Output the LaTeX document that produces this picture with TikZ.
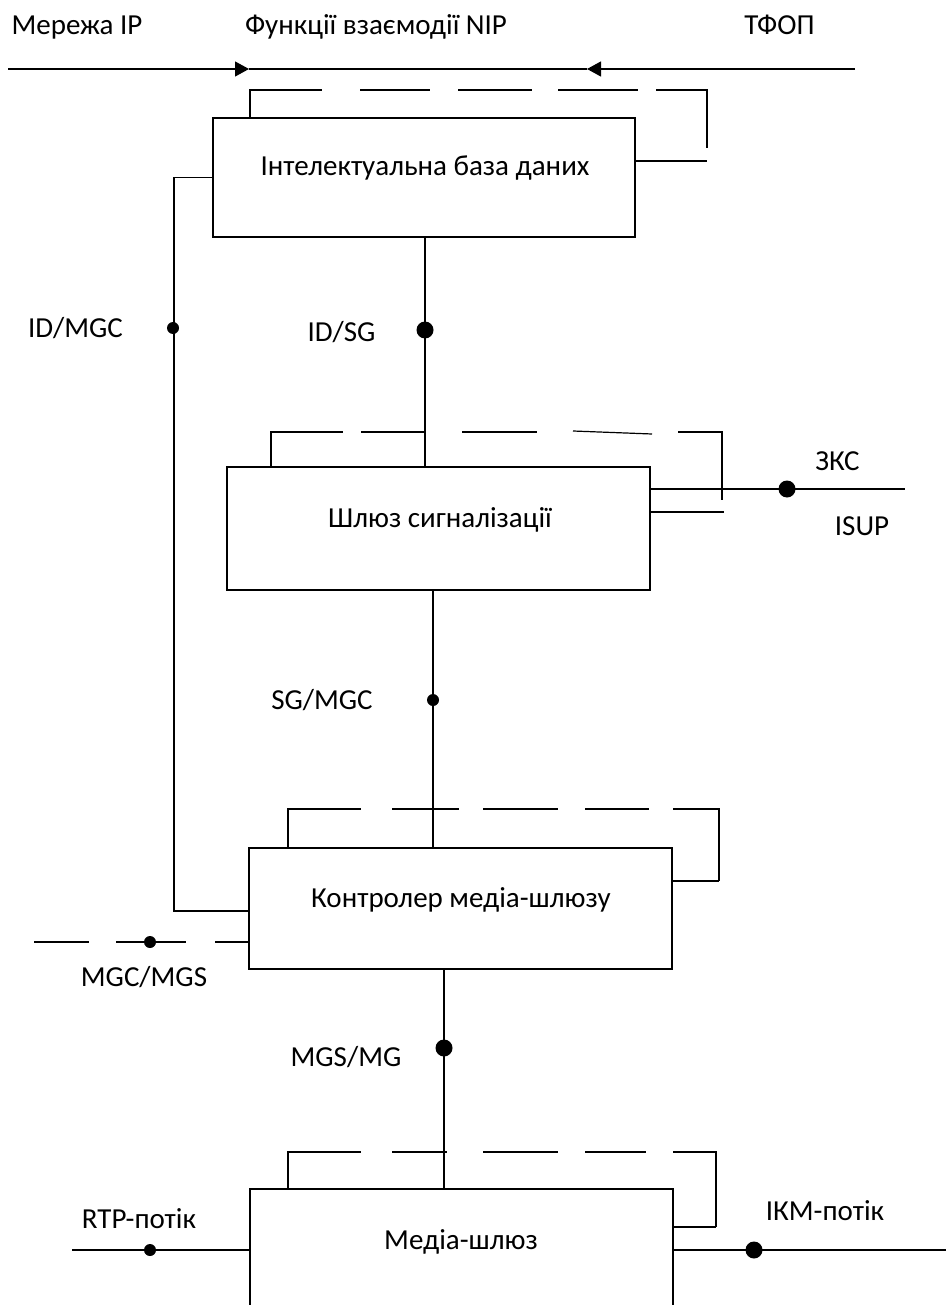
\documentclass[tikz,border=0pt]{standalone}
\usepackage{fontspec}
\setmainfont{Carlito}
\usetikzlibrary{arrows.meta}
\begin{document}
\begin{tikzpicture}[x=1pt,y=-1pt,
  wire/.style={line width=1.2pt},
  block/.style={draw, line width=2.6pt, inner sep=0pt, minimum width=423pt},
  lbl/.style={font=\fontsize{29}{31}\selectfont, inner sep=0pt, text height=18.6pt, text depth=0pt},
  sdot/.style={circle, fill, draw=none, inner sep=0pt, minimum size=12pt},
  bdot/.style={circle, fill, draw=none, inner sep=0pt, minimum size=17pt},
  tip/.style={-{Triangle[length=14pt,width=15pt]}}]
\clip (0,0) rectangle (946,1305);
\fill[white] (0,0) rectangle (946,1305);

% blocks
\node[block, minimum width=422pt, minimum height=119pt] (b1) at (424,177.5) {};
\node[block, minimum height=123pt] (b2) at (438.5,528.5) {};
\node[block, minimum height=121pt] (b3) at (460.5,908.5) {};
\node[block, minimum height=240pt] (b4) at (461.5,1309) {};

\node[lbl] (t1) at (425,166) {Інтелектуальна база даних};
\node[lbl] (t2) at (440,518) {Шлюз сигналізації};
\node[lbl] (t3) at (461,898) {Контролер медіа-шлюзу};
\node[lbl] (t4) at (461,1240) {Медіа-шлюз};

% headings and the domain boundary line
\node[lbl] (h1) at (77,25.5) {Мережа IP};
\node[lbl] (h2) at (376,25.5) {Функції взаємодії NIP};
\node[lbl] (h3) at (779.5,25.5) {ТФОП};
\coordinate (aL) at (8,69);
\coordinate (pL) at (249,69);
\coordinate (pR) at (587,69);
\coordinate (aR) at (855,69);
\draw[wire,tip] (aL) -- (pL);
\draw[wire] (pL) -- (pR);
\draw[wire,tip] (aR) -- (pR);

% dashed loop over the database block
\draw[wire] (250,118) |- (322,90);
\draw[wire] (360,90) -- (430,90);
\draw[wire] (458,90) -- (532,90);
\draw[wire] (558,90) -- (638,90);
\draw[wire] (656,90) -| (707,148);
\draw[wire] (635,161) -- (707,161);

% dashed loop over the signalling gateway
\draw[wire] (271,467) |- (343,432);
\draw[wire] (361,432) -- (426,432);
\draw[wire] (462,432) -- (537,432);
\draw[wire] (573,431) -- (652,434);
\draw[wire] (678,432) -| (722,500);
\draw[wire] (650,512) -- (724,512);

% dashed loop over the media gateway controller
\draw[wire] (288,848) |- (361,809);
\draw[wire] (392,809) -- (459,809);
\draw[wire] (483,809) -- (558,809);
\draw[wire] (585,809) -- (649,809);
\draw[wire] (673,809) -| (719,881);
\draw[wire] (672,881) -- (719,881);

% dashed loop over the media gateway
\draw[wire] (288,1189) |- (361,1152);
\draw[wire] (392,1152) -- (447,1152);
\draw[wire] (483,1152) -- (558,1152);
\draw[wire] (585,1152) -- (646,1152);
\draw[wire] (673,1152) -| (716,1227);
\draw[wire] (673,1227) -- (716,1227);

% ID/SG interface
\coordinate (s1) at (425,237);
\coordinate (e1) at (425,467);
\draw[wire] (s1) -- (e1);
\node[bdot] (d1) at (425,330) {};
\node[lbl] (l1) at (341.5,332) {ID/SG};

% ID/MGC interface
\coordinate (k1) at (174,177.5);
\coordinate (k2) at (174,911);
\coordinate (k3) at (249,911);
\draw[wire] (b1.west) -- (k1) -- (k2) -- (k3);
\node[sdot] (d2) at (173,328) {};
\node[lbl] (l2) at (75.5,328) {ID/MGC};

% SG/MGC interface
\coordinate (s3) at (433,590);
\coordinate (e3) at (433,848);
\draw[wire] (s3) -- (e3);
\node[sdot] (d3) at (433,700) {};
\node[lbl] (l3) at (322,700) {SG/MGC};

% SS7 / ISUP trunk
\coordinate (z1) at (650,489);
\coordinate (z2) at (905,489);
\draw[wire] (z1) -- (z2);
\node[bdot] (d4) at (787,489) {};
\node[lbl] (l4) at (837.5,461) {ЗКС};
\node[lbl] (l5) at (862,526) {ISUP};

% MGC/MGS interface
\draw[wire] (34,942) -- (89,942);
\draw[wire] (116,942) -- (186,942);
\coordinate (m1) at (215,942);
\coordinate (m2) at (249,942);
\draw[wire] (m1) -- (m2);
\node[sdot] (d5) at (150,942) {};
\node[lbl] (l6) at (144,977) {MGC/MGS};

% MGS/MG interface
\coordinate (s6) at (444,969);
\coordinate (e6) at (444,1189);
\draw[wire] (s6) -- (e6);
\node[bdot] (d6) at (444,1048) {};
\node[lbl] (l7) at (346,1057) {MGS/MG};

% media streams
\coordinate (r1) at (72,1250);
\coordinate (r2) at (250,1250);
\draw[wire] (r1) -- (r2);
\node[sdot] (d7) at (150,1250) {};
\node[lbl] (l8) at (139,1219) {RTP-потік};
\coordinate (p1) at (673,1250);
\coordinate (p2) at (946,1250);
\draw[wire] (p1) -- (p2);
\node[bdot] (d8) at (754,1250) {};
\node[lbl] (l9) at (825,1211) {ІКМ-потік};
\end{tikzpicture}
\end{document}
